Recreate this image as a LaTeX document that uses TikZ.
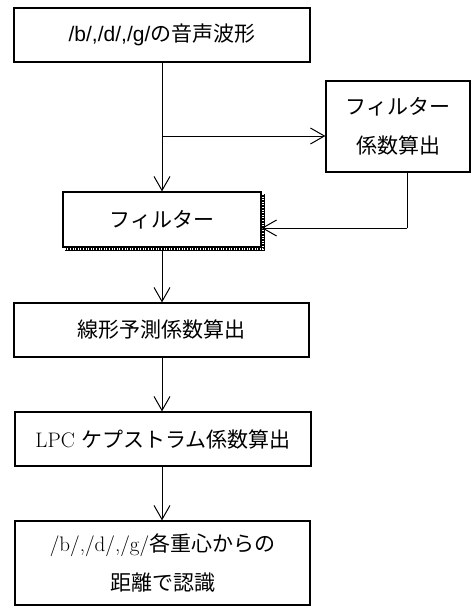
\documentclass[tikz,border=0pt]{standalone}
\usepackage{fontspec}
\newfontfamily\jp{Noto Sans CJK JP}
\newfontfamily\arl{Liberation Sans}
\usetikzlibrary{arrows.meta}
\tikzset{
  box/.style={draw, line width=1.2pt, rectangle, align=center, inner sep=0pt,
    font=\fontsize{21}{39}\selectfont},
  arr/.style={line width=0.9pt, -{Straight Barb[length=14pt,width=16pt,line width=1pt]}},
  conn/.style={line width=0.9pt}
}
\begin{document}
\begin{tikzpicture}[x=1pt,y=-1pt]
\useasboundingbox (0,0) rectangle (471,608);
\node[box, minimum width=296pt, minimum height=54pt] (b1) at (162,35)
  {\arl /b/,/d/,/g/\jp の音声波形};
\node[box, minimum width=144pt, minimum height=91pt] (b2) at (398,126.5)
  {\jp フィルター\\ \jp 係数算出};
% shadow of filter box
\draw[line width=4pt] (263,194) -- (263,249) -- (65,249);
\draw[line width=1.4pt, white, dash pattern=on 1pt off 1.6pt] (263,194) -- (263,249) -- (65,249);
\node[box, fill=white, minimum width=198pt, minimum height=55pt] (b3) at (162,219.5)
  {\jp フィルター};
\node[box, minimum width=295pt, minimum height=54pt] (b4) at (161.5,330)
  {\jp 線形予測係数算出};
\node[box, minimum width=296pt, minimum height=54pt] (b5) at (163,439)
  {LPC {\jp ケプストラム係数算出}};
\node[box, minimum width=295pt, minimum height=84pt] (b6) at (162.5,563)
  {/b/,/d/,/g/{\jp 各重心からの}\\ \jp 距離で認識};
\coordinate (br) at (162,136);
\coordinate (fb) at (407,228);
\draw[arr] (b1.south) -- (b1.south |- b3.north);
\draw[arr] (br) -- (br -| b2.west);
\draw[conn] (fb |- b2.south) -- (fb);
\draw[arr] (fb) -- (fb -| b3.east);
\draw[arr] (b3.south) -- (b3.south |- b4.north);
\draw[arr] (b3.south |- b4.south) -- (b3.south |- b5.north);
\draw[arr] (b3.south |- b5.south) -- (b3.south |- b6.north);
\end{tikzpicture}
\end{document}
